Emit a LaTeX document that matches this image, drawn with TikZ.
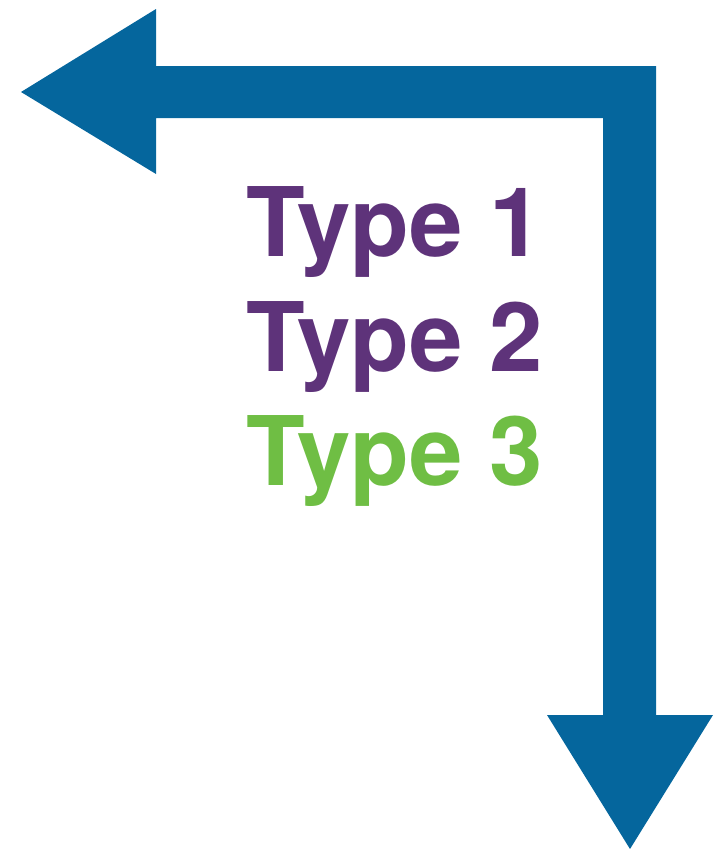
\documentclass[tikz,border=0pt]{standalone}
\usepackage{fontspec}
\setmainfont{TeX Gyre Heros}
\definecolor{arrowblue}{RGB}{5,102,157}
\definecolor{typepurple}{RGB}{94,51,122}
\definecolor{typegreen}{RGB}{111,190,68}
\begin{document}
\begin{tikzpicture}[x=1pt,y=-1pt,
  label/.style={anchor=base west,inner sep=0pt,font=\fontsize{96}{110}\selectfont\bfseries}]
\useasboundingbox (0,0) rectangle (720,849);
\fill[arrowblue] (21,92) -- (156,9) -- (156,66) -- (656,66) -- (656,715) -- (713,715)
  -- (630,849) -- (547,715) -- (603,715) -- (603,118) -- (156,118) -- (156,174) -- cycle;
\node[label,text=typepurple] (t1) at (246,256) {Type 1};
\node[label,text=typepurple] (t2) at (246,371) {Type 2};
\node[label,text=typegreen] (t3) at (246,485) {Type 3};
\end{tikzpicture}
\end{document}
